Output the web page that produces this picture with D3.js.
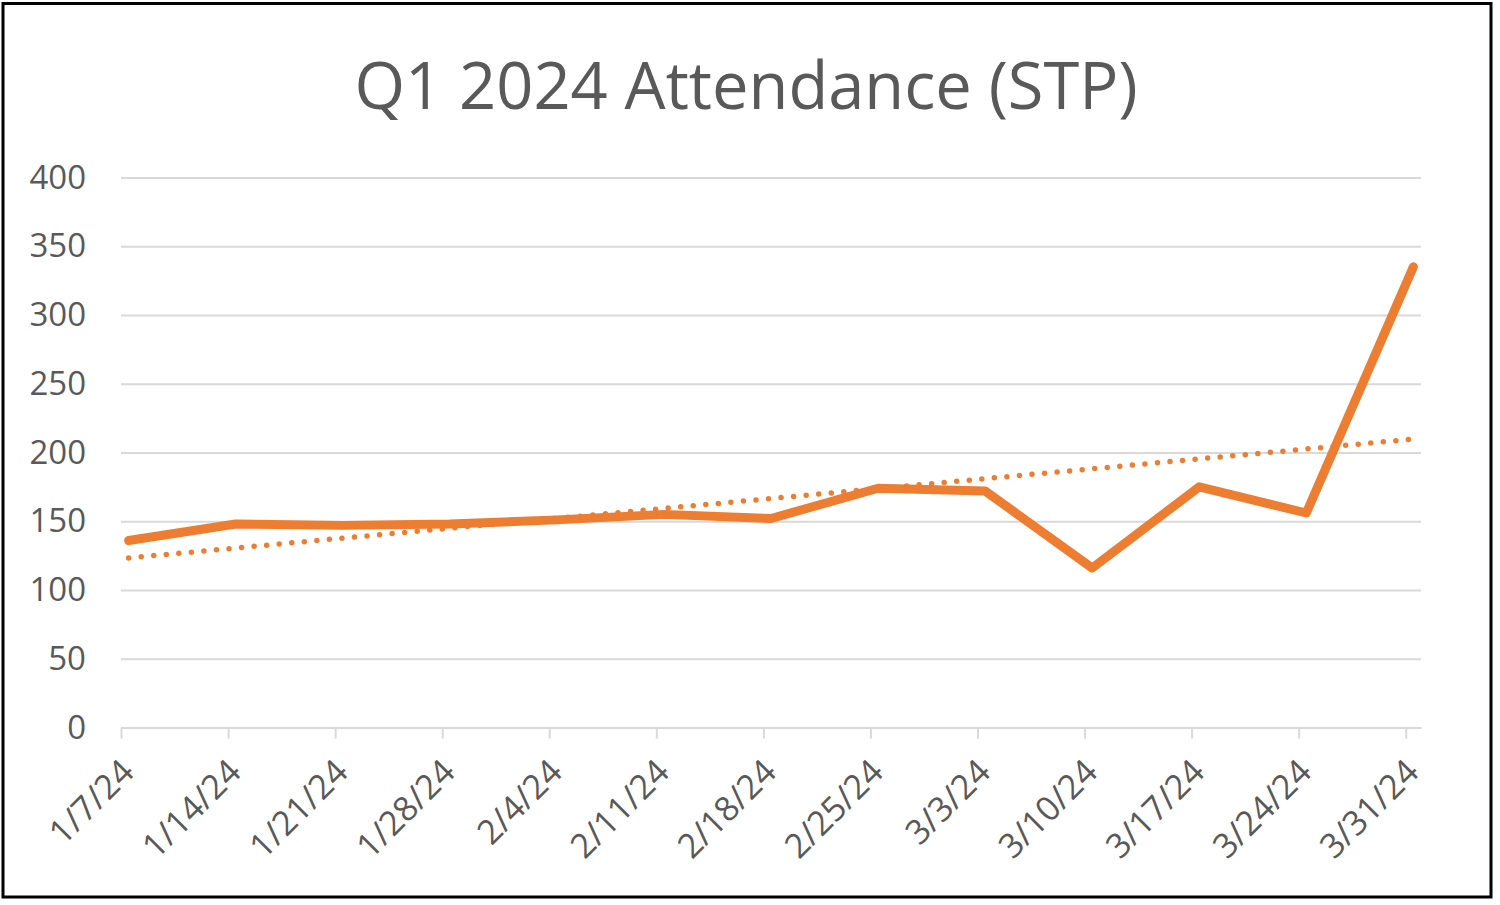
<!DOCTYPE html>
<html>
<head>
<meta charset="utf-8">
<script src="https://cdn.jsdelivr.net/npm/d3@7"></script>
<style>
    body { margin: 0; background: #fff; }
    svg { display: block; }
</style>
</head>
<body>
<svg id="chart" width="1500" height="905"></svg>
<script>
var weekLabels = ["1/7/24", "1/14/24", "1/21/24", "1/28/24", "2/4/24", "2/11/24", "2/18/24",
    "2/25/24", "3/3/24", "3/10/24", "3/17/24", "3/24/24", "3/31/24"]
var attendance = [136, 148, 147, 148, 151, 155, 152, 174, 172, 116, 175, 156, 335]
var yTicks = [0, 50, 100, 150, 200, 250, 300, 350, 400]
var chartTitle = "Q1 2024 Attendance (STP)"

var margin = { top: 177.5, bottom: 177.5, left: 121, right: 79 }
var width = 1500
var height = 905
var textColor = "#595959"
var gridColor = "#d9d9d9"
var lineColor = "#ED7D31"
var font = "'Open Sans', 'DejaVu Sans', sans-serif"

document.addEventListener("DOMContentLoaded", function () {
    drawChart()
})

function drawChart() {
    var svg = d3.select("#chart")
    var parseDate = d3.timeParse("%m/%d/%y")

    var data = weekLabels.map(function (d, i) {
        return { label: d, date: parseDate(d), value: attendance[i] }
    })

    var chartWidth = width - margin.left - margin.right
    var chartBottom = 727.5

    // excel date axis: one day per unit, points sit in the middle of their day
    var start = data[0].date
    var end = d3.timeDay.offset(data[data.length - 1].date, 1)
    var xScale = d3.scaleTime()
        .domain([start, end])
        .range([margin.left, margin.left + chartWidth])
    var xPoint = function (d) { return xScale(d3.timeHour.offset(d.date, 12)) }

    var yScale = d3.scaleLinear()
        .domain([0, 400])
        .range([chartBottom, margin.top])

    svg.append("rect")
        .attr("width", width).attr("height", height)
        .attr("fill", "#fff")

    // title
    svg.append("text")
        .attr("x", 746)
        .attr("y", 109)
        .attr("text-anchor", "middle")
        .attr("font-family", font)
        .attr("font-size", 65)
        .attr("fill", textColor)
        .text(chartTitle)

    // gridlines + y labels
    var yAxis = d3.axisLeft(yScale)
        .tickValues(yTicks)
        .tickSize(-chartWidth)
        .tickPadding(35)
    var yg = svg.append("g")
        .attr("transform", `translate(${margin.left},0)`)
        .call(yAxis)
    yg.select(".domain").remove()
    yg.selectAll(".tick line")
        .attr("stroke", gridColor)
        .attr("stroke-width", 2)
    yg.selectAll(".tick text")
        .attr("font-family", font)
        .attr("font-size", 33)
        .attr("fill", textColor)

    // x axis
    var xAxis = d3.axisBottom(xScale)
        .tickValues(data.map(d => d.date))
        .tickSize(11)
        .tickSizeOuter(0)
        .tickFormat(function (d, i) { return weekLabels[i] })
    var xg = svg.append("g")
        .attr("transform", `translate(0,${chartBottom})`)
        .call(xAxis)
    xg.select(".domain")
        .attr("stroke", gridColor)
        .attr("stroke-width", 2)
    xg.selectAll(".tick line")
        .attr("stroke", gridColor)
        .attr("stroke-width", 2)
    xg.selectAll(".tick text")
        .attr("font-family", font)
        .attr("font-size", 34)
        .attr("fill", textColor)
        .attr("text-anchor", "end")
        .attr("dy", "0.35em")
        .attr("transform", "translate(6,38) rotate(-45)")
        .attr("y", 0)
        .attr("x", 0)

    // linear trendline (least squares on week index)
    var n = data.length
    var meanX = d3.mean(data, (d, i) => i)
    var meanY = d3.mean(data, d => d.value)
    var sxy = d3.sum(data, (d, i) => (i - meanX) * (d.value - meanY))
    var sxx = d3.sum(data, (d, i) => (i - meanX) * (i - meanX))
    var slope = sxy / sxx
    var intercept = meanY - slope * meanX
    var trend = [data[0], data[n - 1]].map(function (d) {
        var i = data.indexOf(d)
        return { date: d.date, value: intercept + slope * i }
    })

    var line = d3.line()
        .x(xPoint)
        .y(d => yScale(d.value))

    svg.append("path")
        .datum(data)
        .attr("d", line)
        .attr("fill", "none")
        .attr("stroke", lineColor)
        .attr("stroke-width", 9)
        .attr("stroke-linejoin", "round")
        .attr("stroke-linecap", "round")

    svg.append("path")
        .datum(trend)
        .attr("d", line)
        .attr("fill", "none")
        .attr("stroke", lineColor)
        .attr("stroke-width", 5.5)
        .attr("stroke-linecap", "round")
        .attr("stroke-dasharray", "0 12.6")

    // chart border
    svg.append("rect")
        .attr("x", 3).attr("y", 3.5)
        .attr("width", 1488).attr("height", 893.5)
        .attr("fill", "none")
        .attr("stroke", "#000")
        .attr("stroke-width", 3)
}
</script>
</body>
</html>
